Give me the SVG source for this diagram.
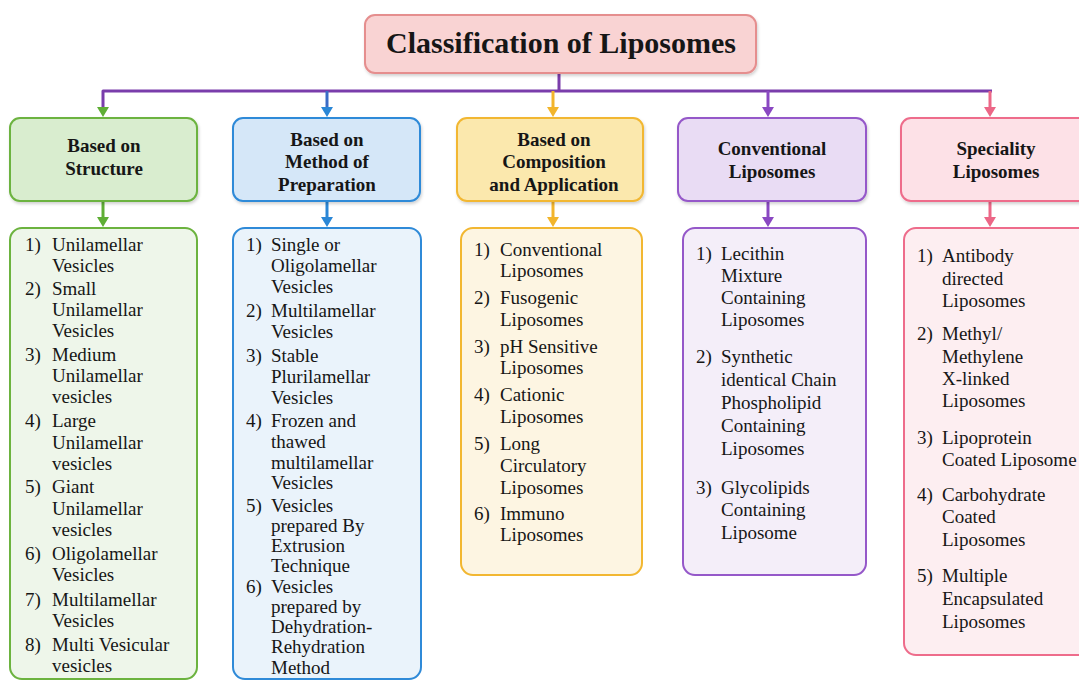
<svg xmlns="http://www.w3.org/2000/svg" width="1079" height="681" viewBox="0 0 1079 681">
<defs>
<filter id="sh" x="-10%" y="-10%" width="120%" height="130%"><feDropShadow dx="1" dy="2" stdDeviation="1.5" flood-color="#000" flood-opacity="0.18"/></filter>
</defs>
<style>
.t{fill:#161616}
.title{font-size:30px;font-weight:bold;text-anchor:middle}
.h{font-size:19px;font-weight:bold;text-anchor:middle}
.li{font-size:19px}
.box{stroke-width:2}
.ln{fill:none;stroke-width:3;stroke-linejoin:round}
</style>
<rect width="1079" height="681" fill="#ffffff"/>

<g id="connectors">
<path class="ln" d="M559,73 V91 M103,108 V91 H992" stroke="#7a3dab"/>
<path d="M97,107 H109 L103,117 Z" fill="#5fae35"/>
<path class="ln" d="M327,91 V108" stroke="#3a6cc6"/><path d="M321,107 H333 L327,117 Z" fill="#2b87d6"/>
<path class="ln" d="M553,91 V108" stroke="#f2b52c"/><path d="M547,107 H559 L553,117 Z" fill="#f2b52c"/>
<path class="ln" d="M768,91 V108" stroke="#8a48c2"/><path d="M762,107 H774 L768,117 Z" fill="#8a48c2"/>
<path class="ln" d="M990,91 V108" stroke="#ec6787"/><path d="M984,107 H996 L990,117 Z" fill="#ec6787"/>
<path class="ln" d="M103,201 V218" stroke="#5fae35"/><path d="M97,217 H109 L103,227 Z" fill="#5fae35"/>
<path class="ln" d="M327,201 V218" stroke="#2b87d6"/><path d="M321,217 H333 L327,227 Z" fill="#2b87d6"/>
<path class="ln" d="M553,201 V218" stroke="#f2b52c"/><path d="M547,217 H559 L553,227 Z" fill="#f2b52c"/>
<path class="ln" d="M768,201 V218" stroke="#8a48c2"/><path d="M762,217 H774 L768,227 Z" fill="#8a48c2"/>
<path class="ln" d="M990,201 V218" stroke="#ec6787"/><path d="M984,217 H996 L990,227 Z" fill="#ec6787"/>
</g>

<g id="title">
<rect class="box" x="365" y="15" width="391" height="58" rx="10" fill="#f9d3d3" stroke="#e58e8e" filter="url(#sh)"/>
<text class="t title" font-family="'Liberation Serif', serif" x="561" y="53">Classification of Liposomes</text>
</g>

<g id="h-structure">
<rect class="box" x="10" y="118" width="187" height="83" rx="10" fill="#d9edcf" stroke="#6cb33f" filter="url(#sh)"/>
<text class="t h" font-family="'Liberation Serif', serif" x="104" y="152">Based on</text>
<text class="t h" font-family="'Liberation Serif', serif" x="104" y="175">Structure</text>
</g>
<g id="h-method">
<rect class="box" x="233" y="118" width="187" height="83" rx="10" fill="#d5e7f8" stroke="#2f8ad8" filter="url(#sh)"/>
<text class="t h" font-family="'Liberation Serif', serif" x="327" y="146">Based on</text>
<text class="t h" font-family="'Liberation Serif', serif" x="327" y="168">Method of</text>
<text class="t h" font-family="'Liberation Serif', serif" x="327" y="191">Preparation</text>
</g>
<g id="h-composition">
<rect class="box" x="457" y="118" width="186" height="83" rx="10" fill="#fbe8ad" stroke="#f2b731" filter="url(#sh)"/>
<text class="t h" font-family="'Liberation Serif', serif" x="554" y="146">Based on</text>
<text class="t h" font-family="'Liberation Serif', serif" x="554" y="168">Composition</text>
<text class="t h" font-family="'Liberation Serif', serif" x="554" y="191">and Application</text>
</g>
<g id="h-conventional">
<rect class="box" x="678" y="118" width="188" height="83" rx="10" fill="#e9dcf4" stroke="#9558c9" filter="url(#sh)"/>
<text class="t h" font-family="'Liberation Serif', serif" x="772" y="155">Conventional</text>
<text class="t h" font-family="'Liberation Serif', serif" x="772" y="178">Liposomes</text>
</g>
<g id="h-speciality">
<rect class="box" x="901" y="118" width="190" height="83" rx="10" fill="#fde1e7" stroke="#ee6c8b" filter="url(#sh)"/>
<text class="t h" font-family="'Liberation Serif', serif" x="996" y="155">Speciality</text>
<text class="t h" font-family="'Liberation Serif', serif" x="996" y="178">Liposomes</text>
</g>

<g id="l-structure">
<rect class="box" x="10" y="228" width="187" height="451" rx="12" fill="#eef6ea" stroke="#6cb33f"/>
<text class="t li" font-family="'Liberation Serif', serif">
<tspan x="25" y="251">1)</tspan><tspan x="52" y="251">Unilamellar</tspan>
<tspan x="52" y="272">Vesicles</tspan>
<tspan x="25" y="295">2)</tspan><tspan x="52" y="295">Small</tspan>
<tspan x="52" y="316">Unilamellar</tspan>
<tspan x="52" y="337">Vesicles</tspan>
<tspan x="25" y="361">3)</tspan><tspan x="52" y="361">Medium</tspan>
<tspan x="52" y="382">Unilamellar</tspan>
<tspan x="52" y="403">vesicles</tspan>
<tspan x="25" y="427">4)</tspan><tspan x="52" y="427">Large</tspan>
<tspan x="52" y="449">Unilamellar</tspan>
<tspan x="52" y="470">vesicles</tspan>
<tspan x="25" y="493">5)</tspan><tspan x="52" y="493">Giant</tspan>
<tspan x="52" y="515">Unilamellar</tspan>
<tspan x="52" y="536">vesicles</tspan>
<tspan x="25" y="560">6)</tspan><tspan x="52" y="560">Oligolamellar</tspan>
<tspan x="52" y="581">Vesicles</tspan>
<tspan x="25" y="606">7)</tspan><tspan x="52" y="606">Multilamellar</tspan>
<tspan x="52" y="627">Vesicles</tspan>
<tspan x="25" y="651">8)</tspan><tspan x="52" y="651">Multi Vesicular</tspan>
<tspan x="52" y="672">vesicles</tspan>
</text>
</g>

<g id="l-method">
<rect class="box" x="233" y="228" width="188" height="451" rx="12" fill="#eaf3fb" stroke="#2f8ad8"/>
<text class="t li" font-family="'Liberation Serif', serif">
<tspan x="246" y="251">1)</tspan><tspan x="271" y="251">Single or</tspan>
<tspan x="271" y="272">Oligolamellar</tspan>
<tspan x="271" y="293">Vesicles</tspan>
<tspan x="246" y="317">2)</tspan><tspan x="271" y="317">Multilamellar</tspan>
<tspan x="271" y="338">Vesicles</tspan>
<tspan x="246" y="362">3)</tspan><tspan x="271" y="362">Stable</tspan>
<tspan x="271" y="383">Plurilamellar</tspan>
<tspan x="271" y="404">Vesicles</tspan>
<tspan x="246" y="427">4)</tspan><tspan x="271" y="427">Frozen and</tspan>
<tspan x="271" y="448">thawed</tspan>
<tspan x="271" y="469">multilamellar</tspan>
<tspan x="271" y="489">Vesicles</tspan>
<tspan x="246" y="512">5)</tspan><tspan x="271" y="512">Vesicles</tspan>
<tspan x="271" y="532">prepared By</tspan>
<tspan x="271" y="552">Extrusion</tspan>
<tspan x="271" y="572">Technique</tspan>
<tspan x="246" y="593">6)</tspan><tspan x="271" y="593">Vesicles</tspan>
<tspan x="271" y="613">prepared by</tspan>
<tspan x="271" y="633">Dehydration-</tspan>
<tspan x="271" y="653">Rehydration</tspan>
<tspan x="271" y="674">Method</tspan>
</text>
</g>

<g id="l-composition">
<rect class="box" x="461" y="228" width="181" height="347" rx="12" fill="#fdf5e2" stroke="#f2b731"/>
<text class="t li" font-family="'Liberation Serif', serif">
<tspan x="474" y="256">1)</tspan><tspan x="500" y="256">Conventional</tspan>
<tspan x="500" y="277">Liposomes</tspan>
<tspan x="474" y="304">2)</tspan><tspan x="500" y="304">Fusogenic</tspan>
<tspan x="500" y="326">Liposomes</tspan>
<tspan x="474" y="353">3)</tspan><tspan x="500" y="353">pH Sensitive</tspan>
<tspan x="500" y="374">Liposomes</tspan>
<tspan x="474" y="401">4)</tspan><tspan x="500" y="401">Cationic</tspan>
<tspan x="500" y="423">Liposomes</tspan>
<tspan x="474" y="450">5)</tspan><tspan x="500" y="450">Long</tspan>
<tspan x="500" y="472">Circulatory</tspan>
<tspan x="500" y="494">Liposomes</tspan>
<tspan x="474" y="520">6)</tspan><tspan x="500" y="520">Immuno</tspan>
<tspan x="500" y="541">Liposomes</tspan>
</text>
</g>

<g id="l-conventional">
<rect class="box" x="683" y="228" width="183" height="347" rx="12" fill="#f4eef9" stroke="#9558c9"/>
<text class="t li" font-family="'Liberation Serif', serif">
<tspan x="696" y="260">1)</tspan><tspan x="721" y="260">Lecithin</tspan>
<tspan x="721" y="282">Mixture</tspan>
<tspan x="721" y="304">Containing</tspan>
<tspan x="721" y="326">Liposomes</tspan>
<tspan x="696" y="363">2)</tspan><tspan x="721" y="363">Synthetic</tspan>
<tspan x="721" y="386">identical Chain</tspan>
<tspan x="721" y="409">Phospholipid</tspan>
<tspan x="721" y="432">Containing</tspan>
<tspan x="721" y="455">Liposomes</tspan>
<tspan x="696" y="494">3)</tspan><tspan x="721" y="494">Glycolipids</tspan>
<tspan x="721" y="516">Containing</tspan>
<tspan x="721" y="539">Liposome</tspan>
</text>
</g>

<g id="l-speciality">
<rect class="box" x="904" y="228" width="190" height="427" rx="12" fill="#fdeef1" stroke="#ee6c8b"/>
<text class="t li" font-family="'Liberation Serif', serif">
<tspan x="917" y="262">1)</tspan><tspan x="942" y="262">Antibody</tspan>
<tspan x="942" y="285">directed</tspan>
<tspan x="942" y="307">Liposomes</tspan>
<tspan x="917" y="340">2)</tspan><tspan x="942" y="340">Methyl/</tspan>
<tspan x="942" y="363">Methylene</tspan>
<tspan x="942" y="385">X-linked</tspan>
<tspan x="942" y="407">Liposomes</tspan>
<tspan x="917" y="444">3)</tspan><tspan x="942" y="444">Lipoprotein</tspan>
<tspan x="942" y="466">Coated Liposome</tspan>
<tspan x="917" y="501">4)</tspan><tspan x="942" y="501">Carbohydrate</tspan>
<tspan x="942" y="523">Coated</tspan>
<tspan x="942" y="546">Liposomes</tspan>
<tspan x="917" y="582">5)</tspan><tspan x="942" y="582">Multiple</tspan>
<tspan x="942" y="605">Encapsulated</tspan>
<tspan x="942" y="628">Liposomes</tspan>
</text>
</g>
</svg>
